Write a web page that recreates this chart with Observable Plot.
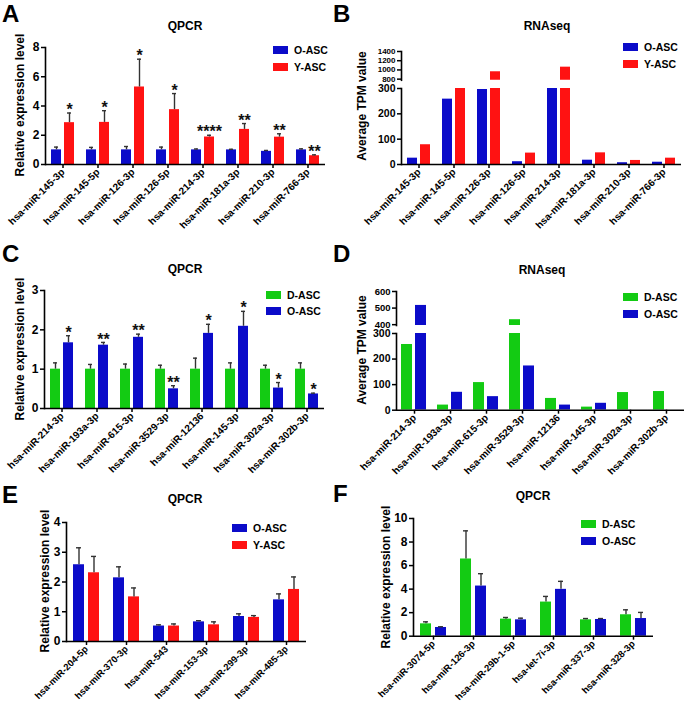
<!DOCTYPE html>
<html>
<head>
<meta charset="utf-8">
<script src="https://cdn.jsdelivr.net/npm/d3@7"></script>
<script src="https://cdn.jsdelivr.net/npm/@observablehq/plot@0.6"></script>
<style>
  html, body { margin: 0; padding: 0; background: #fff; }
  #fig { position: relative; width: 685px; height: 702px; overflow: hidden; background: #fff;
         font-family: "Liberation Sans", Arial, Helvetica, sans-serif; color: #000; }
  #fig svg { position: absolute; }
  .t { position: absolute; white-space: nowrap; font-weight: bold; }
  .plab { font-size: 24px; line-height: 26px; }
  .title { font-size: 12px; line-height: 12px; transform: translate(-50%, -50%); }
  .ylab { font-size: 12px; line-height: 12px; transform: translate(-50%, -50%) rotate(-90deg); }
  .leg { font-size: 10.5px; line-height: 10.5px; transform: translate(0, -50%); }
  .sw { position: absolute; width: 15px; height: 8px; box-sizing: border-box; }
</style>
</head>
<body>
<div id="fig"></div>
<script>
// ---------------- data ----------------
const catsAB = ["hsa-miR-145-3p", "hsa-miR-145-5p", "hsa-miR-126-3p", "hsa-miR-126-5p",
                "hsa-miR-214-3p", "hsa-miR-181a-3p", "hsa-miR-210-3p", "hsa-miR-766-3p"];
const seriesOY = ["O-ASC", "Y-ASC"];
// Panel A (QPCR)
const aOld      = [1.0, 1.0, 1.0, 1.0, 1.0, 1.0, 0.9, 1.0];
const aOldErr   = [0.19, 0.17, 0.23, 0.19, 0.06, 0.04, 0.06, 0.07];
const aYoung    = [2.86, 2.88, 5.3, 3.75, 1.88, 2.4, 1.87, 0.6];
const aYoungErr = [0.66, 0.8, 1.9, 1.1, 0.12, 0.4, 0.23, 0.06];
const aStars    = ["*", "*", "*", "*", "****", "**", "**", "**"];
// Panel B (RNAseq, TPM)
const bOld   = [25, 258, 296, 11, 300, 17, 7, 9];
const bYoung = [78, 300, 960, 45, 1060, 46, 16, 25];
const bTicksLow = [0, 100, 200, 300];
const bTicksHigh = [800, 1000, 1200, 1400];

const catsCD = ["hsa-miR-214-3p", "hsa-miR-193a-3p", "hsa-miR-615-3p", "hsa-miR-3529-3p",
                "hsa-miR-12136", "hsa-miR-145-3p", "hsa-miR-302a-3p", "hsa-miR-302b-3p"];
const seriesDO = ["D-ASC", "O-ASC"];
// Panel C (QPCR)
const cD    = [1.0, 1.0, 1.0, 1.0, 1.0, 1.0, 1.0, 1.0];
const cDErr = [0.16, 0.12, 0.13, 0.1, 0.28, 0.16, 0.1, 0.16];
const cO    = [1.67, 1.61, 1.81, 0.5, 1.91, 2.09, 0.52, 0.37];
const cOErr = [0.18, 0.07, 0.08, 0.08, 0.23, 0.38, 0.14, 0.02];
const cStars = ["*", "**", "**", "**", "*", "*", "*", "*"];
// Panel D (RNAseq, TPM)
const dD = [257, 20, 108, 430, 46, 12, 69, 73];
const dO = [516, 70, 53, 173, 20, 27, 0, 0];
const dTicksLow = [0, 100, 200, 300];
const dTicksHigh = [400, 500, 600];

// Panel E (QPCR)
const catsE = ["hsa-miR-204-5p", "hsa-miR-370-3p", "hsa-miR-543", "hsa-miR-153-3p",
               "hsa-miR-299-3p", "hsa-miR-485-3p"];
const eO    = [2.58, 2.14, 0.52, 0.66, 0.84, 1.4];
const eOErr = [0.57, 0.37, 0.04, 0.04, 0.09, 0.2];
const eY    = [2.31, 1.5, 0.52, 0.56, 0.81, 1.75];
const eYErr = [0.55, 0.3, 0.07, 0.1, 0.06, 0.42];

// Panel F (QPCR)
const catsF = ["hsa-miR-3074-5p", "hsa-miR-126-3p", "hsa-miR-29b-1-5p", "hsa-let-7i-3p",
               "hsa-miR-337-3p", "hsa-miR-328-3p"];
const fD    = [1.05, 6.56, 1.45, 2.9, 1.39, 1.82];
const fDErr = [0.17, 2.39, 0.14, 0.48, 0.11, 0.42];
const fO    = [0.74, 4.26, 1.39, 3.98, 1.42, 1.5];
const fOErr = [0.06, 1.05, 0.14, 0.68, 0.08, 0.52];

// ---------------- style ----------------
const FONT = '"Liberation Sans", Arial, Helvetica, sans-serif';
const BLUE = "#0b0bc9", RED = "#ff1212", GREEN = "#13cb13";
const colorOf = {"O-ASC": BLUE, "Y-ASC": RED, "D-ASC": GREEN};
const fig = document.getElementById("fig");

function addText(cls, text, x, y) {
  const d = document.createElement("div");
  d.className = "t " + cls;
  d.textContent = text;
  d.style.left = x + "px";
  d.style.top = y + "px";
  fig.appendChild(d);
}
function addLegend(series, x, y0, dy) {
  series.forEach((s, i) => {
    const sw = document.createElement("div");
    sw.className = "sw";
    sw.style.left = x + "px";
    sw.style.top = (y0 + i * dy - 4) + "px";
    sw.style.background = colorOf[s];
    fig.appendChild(sw);
    addText("leg", s, x + 21, y0 + i * dy);
  });
}

function panel(o) {
  const {cats, series, values, errors, stars, starSeries, domain, ticks, x0, x1, y0, y1,
         xAxis = true, clip = false, padIn = 0.22, padOut = 0.4, tickFont = 12, xFont = 10} = o;
  const data = [];
  cats.forEach((c, i) => series.forEach((s, j) => {
    const v = values[j][i];
    const e = errors ? errors[j][i] : null;
    data.push({cat: c, series: s, value: v, upper: e == null ? v : v + e,
               star: stars && j === starSeries ? stars[i] : null});
  }));
  const mL = 40, mR = 1, mT = 30, mB = xAxis ? 90 : 4;
  const W = x1 - x0, H = y1 - y0;
  const marks = [
    Plot.barY(data, {fx: "cat", x: "series", y: "value", fill: "series", clip})
  ];
  if (errors) {
    marks.push(Plot.ruleX(data, {fx: "cat", x: "series", y1: "value", y2: "upper", stroke: "#333", strokeWidth: 1.4}));
    marks.push(Plot.tickY(data, {fx: "cat", x: "series", y: "upper", stroke: "#333", strokeWidth: 1.4, insetLeft: 3, insetRight: 3}));
  }
  if (stars) {
    marks.push(Plot.text(data.filter(d => d.star), {fx: "cat", x: "series", y: "upper", text: "star",
      dy: -3, fontSize: 16, fontWeight: "bold", fill: "#111"}));
  }
  // y axis: vertical line along the left of the first facet, plus ticks & labels
  marks.push(Plot.frame({anchor: "left", facetAnchor: "left", strokeWidth: 1.6}));
  marks.push(Plot.axisY({ticks, tickFormat: "d", tickSize: 4, tickPadding: 2,
    strokeWidth: 1.5, fontSize: tickFont, fontWeight: "bold", label: null}));
  if (xAxis) {
    marks.push(Plot.ruleY([domain[0]], {strokeWidth: 1.6}));
    marks.push(Plot.axisFx({anchor: "bottom", tickRotate: -45, tickSize: 4, tickPadding: 2,
      strokeWidth: 1.5, fontSize: xFont, fontWeight: "bold", label: null}));
  }
  const svg = Plot.plot({
    width: mL + W + mR, height: mT + H + mB,
    marginLeft: mL, marginRight: mR, marginTop: mT, marginBottom: mB,
    style: {background: "none", overflow: "visible", fontFamily: FONT, fontWeight: "bold", color: "#000"},
    fx: {domain: cats, padding: 0, axis: null, label: null},
    x: {domain: series, axis: null, paddingInner: padIn, paddingOuter: padOut},
    y: {domain, axis: null},
    color: {domain: series, range: series.map(s => colorOf[s])},
    marks
  });
  svg.style.left = (x0 - mL) + "px";
  svg.style.top = (y0 - mT) + "px";
  fig.appendChild(svg);
}

// ---------------- Panel A ----------------
panel({cats: catsAB, series: seriesOY, values: [aOld, aYoung], errors: [aOldErr, aYoungErr],
       stars: aStars, starSeries: 1, domain: [0, 8], ticks: [0, 2, 4, 6, 8],
       x0: 42, x1: 327, y0: 47, y1: 164});
addText("plab", "A", 2, 1);
addText("title", "QPCR", 185, 25.5);
addText("ylab", "Relative expression level", 20, 105);
addLegend(seriesOY, 273, 50, 16.5);

// ---------------- Panel B ----------------
panel({cats: catsAB, series: seriesOY, values: [bOld, bYoung], domain: [0, 300], ticks: bTicksLow,
       x0: 398, x1: 684, y0: 88, y1: 164, clip: true, padIn: 0.21, padOut: 0.38, tickFont: 10.5});
panel({cats: catsAB, series: seriesOY, values: [bOld, bYoung], domain: [775, 1400], ticks: bTicksHigh,
       x0: 398, x1: 684, y0: 50.5, y1: 79.3, clip: true, xAxis: false, padIn: 0.21, padOut: 0.38, tickFont: 8});
addText("plab", "B", 333, 1);
addText("title", "RNAseq", 547, 25.5);
addText("ylab", "Average TPM value", 362, 106);
addLegend(seriesOY, 623, 47, 17);

// ---------------- Panel C ----------------
panel({cats: catsCD, series: seriesDO, values: [cD, cO], errors: [cDErr, cOErr],
       stars: cStars, starSeries: 1, domain: [0, 3], ticks: [0, 1, 2, 3],
       x0: 41, x1: 326, y0: 290, y1: 408});
addText("plab", "C", 2, 241);
addText("title", "QPCR", 185, 268.5);
addText("ylab", "Relative expression level", 20, 349);
addLegend(seriesDO, 266, 295, 16);

// ---------------- Panel D ----------------
panel({cats: catsCD, series: seriesDO, values: [dD, dO], domain: [0, 300], ticks: dTicksLow,
       x0: 395, x1: 684, y0: 333.3, y1: 410, clip: true, padIn: 0.21, padOut: 0.38, tickFont: 10.5});
panel({cats: catsCD, series: seriesDO, values: [dD, dO], domain: [395, 600], ticks: dTicksHigh,
       x0: 395, x1: 684, y0: 291, y1: 325, clip: true, xAxis: false, padIn: 0.21, padOut: 0.38, tickFont: 9.5});
addText("plab", "D", 333, 241);
addText("title", "RNAseq", 542, 270);
addText("ylab", "Average TPM value", 362, 350);
addLegend(seriesDO, 623, 297, 17);

// ---------------- Panel E ----------------
panel({cats: catsE, series: seriesOY, values: [eO, eY], errors: [eOErr, eYErr],
       domain: [0, 4], ticks: [0, 1, 2, 3, 4], x0: 65, x1: 307, y0: 522, y1: 641,
       padIn: 0.25, padOut: 0.39, xFont: 9.5});
addText("plab", "E", 2, 482);
addText("title", "QPCR", 185, 499);
addText("ylab", "Relative expression level", 45, 581);
addLegend(seriesOY, 232, 528, 16.5);

// ---------------- Panel F ----------------
panel({cats: catsF, series: seriesDO, values: [fD, fO], errors: [fDErr, fOErr],
       domain: [0, 10], ticks: [0, 2, 4, 6, 8, 10], x0: 413, x1: 653, y0: 518.3, y1: 636,
       padIn: 0.25, padOut: 0.39, xFont: 9.5});
addText("plab", "F", 333, 481);
addText("title", "QPCR", 533, 496);
addText("ylab", "Relative expression level", 386, 577);
addLegend(seriesDO, 581, 524, 16.5);
</script>
</body>
</html>
